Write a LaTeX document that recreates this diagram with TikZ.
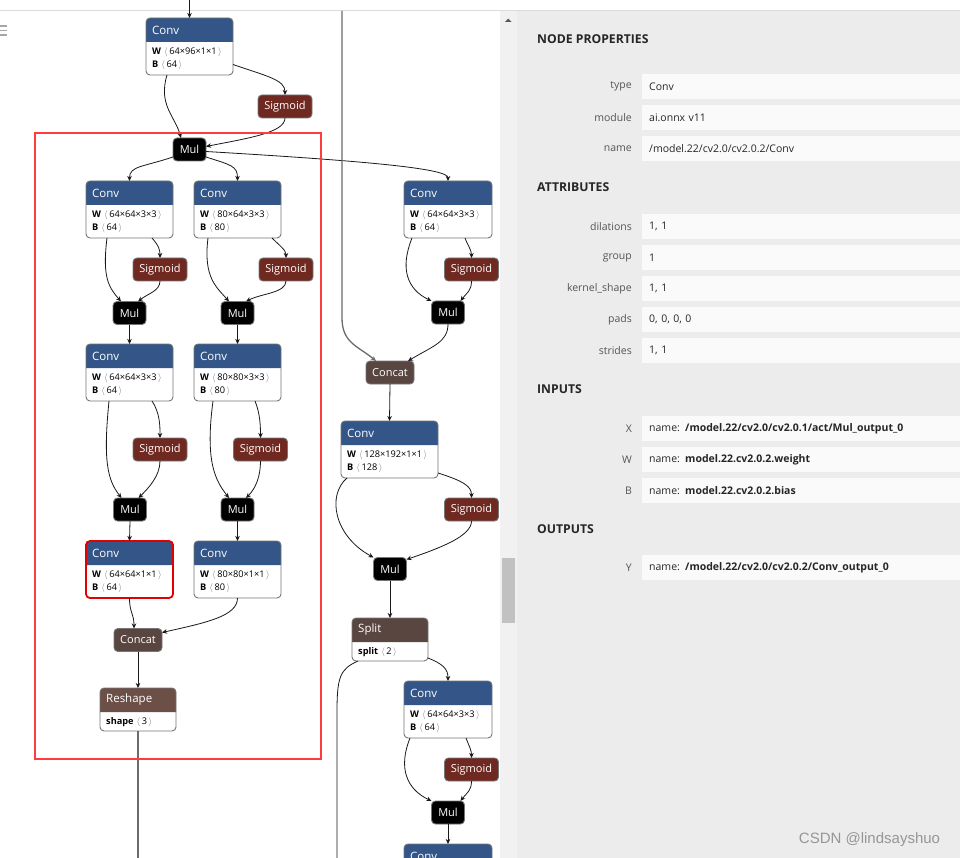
\documentclass[tikz,border=0pt]{standalone}
\usepackage{fontspec}
\setmainfont{Open Sans}
\newfontfamily\markfont{Liberation Sans}
\usetikzlibrary{arrows.meta,positioning}

\definecolor{convblue}{RGB}{51,85,136}
\definecolor{sigred}{RGB}{112,41,33}
\definecolor{catbrown}{RGB}{89,70,64}
\definecolor{shapebrown}{RGB}{108,79,71}
\definecolor{nodegrey}{RGB}{118,118,118}
\definecolor{panelbg}{RGB}{236,236,236}
\definecolor{scrollbg}{RGB}{241,241,241}
\definecolor{thumbgrey}{RGB}{193,193,193}
\definecolor{boxwhite}{RGB}{250,250,250}
\definecolor{labelgrey}{RGB}{85,85,85}
\definecolor{markred}{RGB}{255,59,59}
\definecolor{hotred}{RGB}{226,0,0}
\definecolor{bracketgrey}{RGB}{110,120,135}
\definecolor{markgrey}{RGB}{150,150,150}

\newcommand{\lb}{\,\,\textcolor{bracketgrey}{$\langle$}\,}
\newcommand{\rb}{\,\textcolor{bracketgrey}{$\rangle$}}

% block with coloured header: [border]{name}{top left}{width}{height}{colour}{title}
\newcommand{\opblock}[7][blockline]{%
  \node[blockbody, minimum width=#4pt, minimum height=#5pt, anchor=north west] (#2) at #3 {};
  \fill[#6] ([yshift=-24pt]#2.north west) [rounded corners=4pt] -- (#2.north west)
    -- (#2.north east) [sharp corners] -- ([yshift=-24pt]#2.north east) -- cycle;
  \draw[#1, rounded corners=4pt] (#2.north west) rectangle (#2.south east);
  \node[blocktitle] at ([xshift=6pt,yshift=-12pt]#2.north west) {#7};
}
% conv block: [border]{name}{top left}{width}{W}{B}
\newcommand{\convblock}[6][blockline]{%
  \opblock[#1]{#2}{#3}{#4}{57}{convblue}{Conv}
  \node[attrtext] at ([xshift=6pt,yshift=-34pt]#2.north west) {\textbf{W}\lb#5\rb};
  \node[attrtext] at ([xshift=6pt,yshift=-47.5pt]#2.north west) {\textbf{B}\lb#6\rb};
}

\begin{document}
\begin{tikzpicture}[x=1pt,y=-1pt,
    blockbody/.style={rectangle,fill=white,inner sep=0pt,outer sep=0pt},
    blockline/.style={draw=nodegrey,line width=0.9pt},
    hotline/.style={draw=hotred,line width=1.8pt},
    blocktitle/.style={anchor=west,inner sep=0pt,text=white,font=\fontsize{11.5}{13}\selectfont},
    attrtext/.style={anchor=west,inner sep=0pt,font=\fontsize{9.2}{10}\selectfont},
    smallop/.style={draw=nodegrey,line width=0.9pt,rounded corners=4pt,minimum height=23pt,
      inner sep=0pt,outer sep=0pt,text=white,font=\fontsize{11}{13}\selectfont},
    sigop/.style={smallop,fill=sigred,minimum width=54pt},
    mulop/.style={smallop,fill=black,minimum width=33pt},
    catop/.style={smallop,fill=catbrown,minimum width=48pt},
    flow/.style={draw=black!90,line width=0.8pt,-{Stealth[length=5pt,width=4.5pt,inset=1.5pt]}},
    bundle/.style={draw=black!58,line width=1.3pt},
    valbox/.style={anchor=west,fill=boxwhite,minimum height=25pt,minimum width=330pt,
      text width=316pt,inner xsep=7pt,align=left,text=black!85,font=\fontsize{10.5}{12}\selectfont},
    proplabel/.style={text=labelgrey,inner sep=0pt,font=\fontsize{10.5}{12}\selectfont},
    heading/.style={anchor=west,inner sep=0pt,text=black!85,font=\bfseries\fontsize{12.2}{14}\selectfont}]
  \useasboundingbox (0,0) rectangle (960,858);
  \clip (0,0) rectangle (960,858);

  % Background
  \fill[white] (0,0) rectangle (960,858);
  \fill[scrollbg] (500,11) rectangle (517,858);
  \fill[panelbg] (517,11) rectangle (960,858);
  \draw[black!14,line width=1pt] (0,10.5) -- (960,10.5);
  % -- scrollbar and menu icon
  \fill[thumbgrey] (502,558) rectangle (515,623);
  \fill[black!65] (505,22) -- (511.5,22) -- (508.25,18.5) -- cycle;
  \draw[black!35,line width=1.4pt] (0,26) -- (7,26) (0,30.5) -- (7,30.5) (0,35) -- (7,35);

  % Graph: left branch
  \convblock{c0}{(146,18)}{87}{64×96×1×1}{64}
  \node[sigop] (s0) at (285,106.5) {Sigmoid};
  \node[mulop] (m0) at (189.5,149.5) {Mul};
  \convblock{cL1}{(86,181)}{87}{64×64×3×3}{64}
  \convblock{cR1}{(194,181)}{87}{80×64×3×3}{80}
  \node[sigop] (sL1) at (160,269.5) {Sigmoid};
  \node[sigop] (sR1) at (286,269.5) {Sigmoid};
  \node[mulop] (mL1) at (129.5,313) {Mul};
  \node[mulop] (mR1) at (237.5,313) {Mul};
  \convblock{cL2}{(86,344)}{87}{64×64×3×3}{64}
  \convblock{cR2}{(194,344)}{87}{80×80×3×3}{80}
  \node[sigop] (sL2) at (160,449.5) {Sigmoid};
  \node[sigop] (sR2) at (260.5,449.5) {Sigmoid};
  \node[mulop] (mL2) at (130,509.5) {Mul};
  \node[mulop] (mR2) at (237.5,509.5) {Mul};
  \convblock[hotline]{cL3}{(86,541)}{87}{64×64×1×1}{64}
  \convblock{cR3}{(194,541)}{87}{80×80×1×1}{80}
  \node[catop] (cc1) at (138,640) {Concat};
  \opblock{rs}{(100,688)}{76}{43}{shapebrown}{Reshape}
  \node[attrtext] at ([xshift=6pt,yshift=-34pt]rs.north west) {\textbf{shape}\lb3\rb};

  % Graph: right branch
  \convblock{cA1}{(404,181)}{88}{64×64×3×3}{64}
  \node[sigop] (sA1) at (471.5,269.5) {Sigmoid};
  \node[mulop] (mA1) at (448,312.5) {Mul};
  \node[catop] (cc2) at (390,372.5) {Concat};
  \convblock{cB}{(341,421)}{97}{128×192×1×1}{128}
  \node[sigop] (sB) at (471.5,509.5) {Sigmoid};
  \node[mulop] (mB) at (390,569) {Mul};
  \opblock{sp}{(352,618)}{76}{43}{catbrown}{Split}
  \node[attrtext] at ([xshift=6pt,yshift=-34pt]sp.north west) {\textbf{split}\lb2\rb};
  \convblock{cA2}{(404,681)}{88}{64×64×3×3}{64}
  \node[sigop] (sA2) at (471.5,769.5) {Sigmoid};
  \node[mulop] (mA2) at (448,812.5) {Mul};
  \opblock{cA3}{(404,844)}{88}{57}{convblue}{Conv}

  % Edges
  \coordinate (in0) at (189.5,0);
  \coordinate (topR) at (342,11);
  \coordinate (downR) at (342,318);
  \coordinate (out1) at (138,858);
  \coordinate (bend2) at (337,712);
  \coordinate (out2) at (337,858);
  \draw[flow] (in0) -- (c0.north);
  \draw[flow] ([xshift=21pt]c0.south west) .. controls +(-9,30) and +(-6,-22) .. ([xshift=8pt]m0.north west);
  \draw[flow] ([yshift=-18pt]c0.east) .. controls +(35,12) and +(0,-15) .. (s0.north);
  \draw[flow] (s0.south) .. controls +(0,15) and +(40,-8) .. ([yshift=3pt]m0.east);
  \draw[flow] ([yshift=4pt]m0.south west) .. controls +(-30,10) and +(0,-15) .. (cL1.north);
  \draw[flow] ([yshift=4pt]m0.south east) .. controls +(25,8) and +(0,-15) .. (cR1.north);
  \draw[flow] ([yshift=-2pt]m0.east) .. controls +(170,10) and +(0,-12) .. (cA1.north);
  % -- left column
  \draw[flow] ([xshift=21pt]cL1.south west) .. controls +(-5,40) and +(-12,-14) .. ([xshift=8pt]mL1.north west);
  \draw[flow] ([xshift=-21pt]cL1.south east) .. controls +(7,8) and +(0,-8) .. (sL1.north);
  \draw[flow] (sL1.south) .. controls +(0,10) and +(10,-8) .. ([xshift=-8pt]mL1.north east);
  \draw[flow] (mL1.south) -- (cL2.north);
  \draw[flow] ([xshift=23pt]cL2.south west) .. controls +(-6,60) and +(-14,-18) .. ([xshift=8pt]mL2.north west);
  \draw[flow] ([xshift=-21pt]cL2.south east) .. controls +(8,12) and +(0,-12) .. (sL2.north);
  \draw[flow] (sL2.south) .. controls +(0,15) and +(10,-10) .. ([xshift=-8pt]mL2.north east);
  \draw[flow] (mL2.south) -- (cL3.north);
  % -- middle column
  \draw[flow] ([xshift=14pt]cR1.south west) .. controls +(-5,40) and +(-12,-14) .. ([xshift=8pt]mR1.north west);
  \draw[flow] ([xshift=-9pt]cR1.south east) .. controls +(8,8) and +(0,-8) .. (sR1.north);
  \draw[flow] (sR1.south) .. controls +(0,12) and +(15,-8) .. ([xshift=-8pt]mR1.north east);
  \draw[flow] (mR1.south) -- (cR2.north);
  \draw[flow] ([xshift=19pt]cR2.south west) .. controls +(-8,60) and +(-14,-18) .. ([xshift=8pt]mR2.north west);
  \draw[flow] ([xshift=-26pt]cR2.south east) .. controls +(5,12) and +(0,-12) .. (sR2.north);
  \draw[flow] (sR2.south) .. controls +(0,15) and +(10,-10) .. ([xshift=-8pt]mR2.north east);
  \draw[flow] (mR2.south) -- (cR3.north);
  \draw[flow] (cL3.south) .. controls +(0,15) and +(0,-15) .. ([xshift=-4pt]cc1.north);
  \draw[flow] (cR3.south) .. controls +(0,18) and +(45,-10) .. ([yshift=-4pt]cc1.north east);
  \draw[flow] (cc1.south) -- (rs.north);
  \draw[bundle] (rs.south) -- (out1);
  % -- right column
  \draw[bundle,-{Stealth[length=5pt,width=4.5pt,inset=1.5pt]}] (topR) -- (downR)
    .. controls +(0,25) and +(-18,-15) .. ([xshift=10pt]cc2.north west);
  \draw[flow] ([xshift=8pt]cA1.south west) .. controls +(-12,30) and +(-25,-12) .. (mA1.north west);
  \draw[flow] ([xshift=-27pt]cA1.south east) .. controls +(3,8) and +(0,-8) .. (sA1.north);
  \draw[flow] (sA1.south) .. controls +(0,10) and +(6,-8) .. ([xshift=-4pt]mA1.north east);
  \draw[flow] (mA1.south) .. controls +(0,18) and +(25,-15) .. ([xshift=-6pt]cc2.north east);
  \draw[flow] (cc2.south) -- (cB.north);
  \draw[flow] ([xshift=6pt]cB.south west) .. controls +(-20,17) and +(-40,-22) .. (mB.north west);
  \draw[flow] ([yshift=5pt]cB.south east) .. controls +(25,8) and +(0,-12) .. (sB.north);
  \draw[flow] (sB.south) .. controls +(0,15) and +(35,-12) .. ([yshift=-2pt]mB.north east);
  \draw[flow] (mB.south) -- (sp.north);
  \draw[flow] ([yshift=3pt]sp.south east) .. controls +(15,6) and +(0,-12) .. (cA2.north);
  \draw[flow,-] ([xshift=6pt]sp.south west) .. controls +(-18,8) and +(0,-35) .. (bend2) -- (out2);
  \draw[flow] ([xshift=6pt]cA2.south west) .. controls +(-12,30) and +(-25,-12) .. (mA2.north west);
  \draw[flow] ([xshift=-26pt]cA2.south east) .. controls +(3,8) and +(0,-8) .. (sA2.north);
  \draw[flow] (sA2.south) .. controls +(0,10) and +(6,-8) .. ([xshift=-4pt]mA2.north east);
  \draw[flow] (mA2.south) -- (cA3.north);

  % Selection frame
  \draw[markred,line width=2.6pt] (35,133) rectangle (321,759);

  % Properties panel
  \node[heading] (hprop) at (537,39.5) {NODE PROPERTIES};
  \node[valbox] (ptype) at (642,86.5) {Conv};
  \node[proplabel,left=10pt of ptype] {type};
  \node[valbox] (pmod) at (642,117.5) {ai.onnx v11};
  \node[proplabel,left=10pt of pmod] {module};
  \node[valbox] (pname) at (642,148.5) {/model.22/cv2.0/cv2.0.2/Conv};
  \node[proplabel,left=10pt of pname] {name};
  \node[heading] (hattr) at (537,187) {ATTRIBUTES};
  \node[valbox] (pdil) at (642,226.5) {1, 1};
  \node[proplabel,left=10pt of pdil] {dilations};
  \node[valbox] (pgrp) at (642,257.5) {1};
  \node[proplabel,left=10pt of pgrp] {group};
  \node[valbox] (pker) at (642,288.5) {1, 1};
  \node[proplabel,left=10pt of pker] {kernel\_shape};
  \node[valbox] (ppad) at (642,319.5) {0, 0, 0, 0};
  \node[proplabel,left=10pt of ppad] {pads};
  \node[valbox] (pstr) at (642,350.5) {1, 1};
  \node[proplabel,left=10pt of pstr] {strides};
  \node[heading] (hin) at (537,389) {INPUTS};
  \node[valbox] (pinx) at (642,428.5) {name: \textbf{/model.22/cv2.0/cv2.0.1/act/Mul\_output\_0}};
  \node[proplabel,left=10pt of pinx] {X};
  \node[valbox] (pinw) at (642,459.5) {name: \textbf{model.22.cv2.0.2.weight}};
  \node[proplabel,left=10pt of pinw] {W};
  \node[valbox] (pinb) at (642,490.5) {name: \textbf{model.22.cv2.0.2.bias}};
  \node[proplabel,left=10pt of pinb] {B};
  \node[heading] (hout) at (537,529) {OUTPUTS};
  \node[valbox] (pouty) at (642,567.5) {name: \textbf{/model.22/cv2.0/cv2.0.2/Conv\_output\_0}};
  \node[proplabel,left=10pt of pouty] {Y};

  % Watermark
  \node[text=markgrey,font=\markfont\fontsize{15}{17}\selectfont] (wm) at (869.5,840) {CSDN @lindsayshuo};
\end{tikzpicture}
\end{document}
